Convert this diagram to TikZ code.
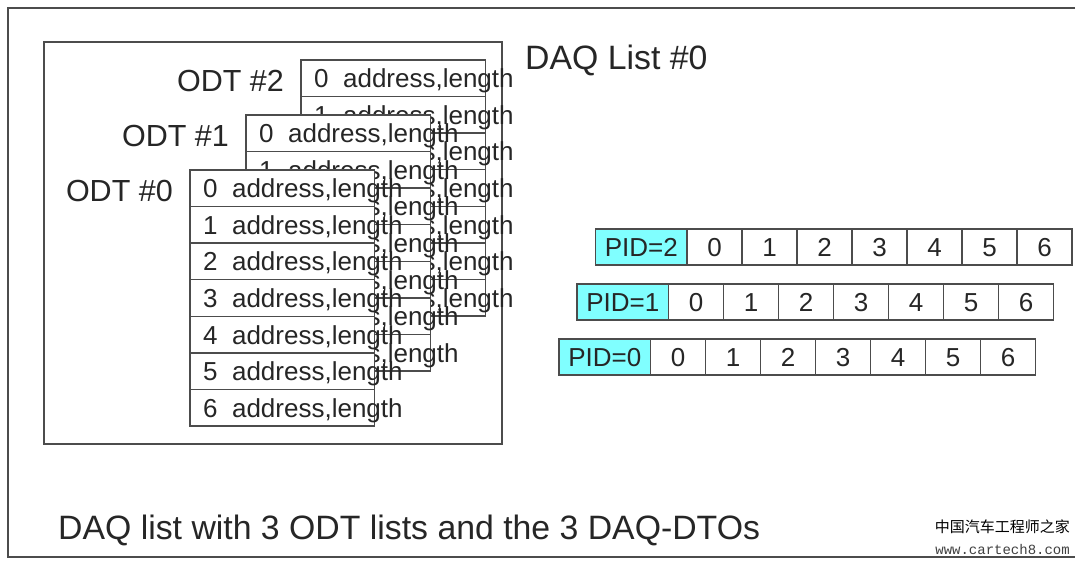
\documentclass[tikz,border=0pt]{standalone}
\usepackage{fontspec}
\setmainfont{Liberation Sans}
\newfontfamily\cjkfont{Noto Sans CJK SC}
\newfontfamily\webfont{Liberation Mono}
\definecolor{pidcyan}{HTML}{80FFFF}
\definecolor{inkline}{gray}{0.3}
\tikzset{
  boxline/.style = {draw=inkline, line width=1.5pt, inner sep=0pt, outer sep=0pt},
  rowbox/.style = {boxline, fill=white, anchor=north west, minimum width=184.5pt, minimum height=36.57pt},
  rowtext/.style = {anchor=west, inner sep=0pt, text=black!85, font=\fontsize{26}{30}\selectfont, text height=19pt, text depth=0pt},
  pidcell/.style = {boxline, fill=white, anchor=north west, minimum width=55pt, minimum height=36pt,
    text=black!85, font=\fontsize{26}{30}\selectfont, text height=19pt, text depth=0pt},
  pidhead/.style = {pidcell, fill=pidcyan, minimum width=91.5pt},
  heading/.style = {anchor=west, inner sep=0pt, text=black!85, font=\fontsize{30.5}{36}\selectfont}
}
\begin{document}
\begin{tikzpicture}[x=1pt, y=-1pt]
\useasboundingbox (0,0) rectangle (1080,565);
\fill[white] (0,0) rectangle (1080,565);
\draw[inkline, line width=1.8pt] (1075,8) -- (8,8) -- (8,557) -- (1075,557);
\node[boxline, anchor=north west, minimum width=458pt, minimum height=402pt] (daqbox) at (44,42) {};
\node[heading, font=\fontsize{33.8}{40}\selectfont] (daqtitle) at (525,60) {DAQ List \#0};
% odt tables, back one first
\foreach \odt/\x/\y in {2/301/60, 1/246/115, 0/190/170} {
  \node[heading, anchor=east] (odtname\odt) at (\x-17,\y+21) {ODT \#\odt};
  \foreach \row in {0,...,6} {
    \node[rowbox] (odt\odt-\row) at (\x,\y+\row*36.57) {};
    \node[rowtext] (odttext\odt-\row) at (\x+13,\y+\row*36.57+18.3) {\row\ \ address,length};
  }
}
% dto rows
\foreach \pid/\x/\y in {2/595.5/229, 1/577/284, 0/559/339} {
  \node[pidhead] (pid\pid) at (\x,\y) {PID=\pid};
  \foreach \cell in {0,...,6} {
    \node[pidcell] (dto\pid-\cell) at (\x+91.5+\cell*55,\y) {\cell};
  }
}
\node[heading, font=\fontsize{33.8}{40}\selectfont] (caption) at (58,530) {DAQ list with 3 ODT lists and the 3 DAQ-DTOs};
\node[anchor=east, inner sep=0pt, font=\cjkfont\fontsize{15}{18}\selectfont] (marktext) at (1070,527) {中国汽车工程师之家};
\node[anchor=east, inner sep=0pt, text=black!75, font=\webfont\fontsize{14}{17}\selectfont] (markweb) at (1070,549) {www.cartech8.com};
\end{tikzpicture}
\end{document}
